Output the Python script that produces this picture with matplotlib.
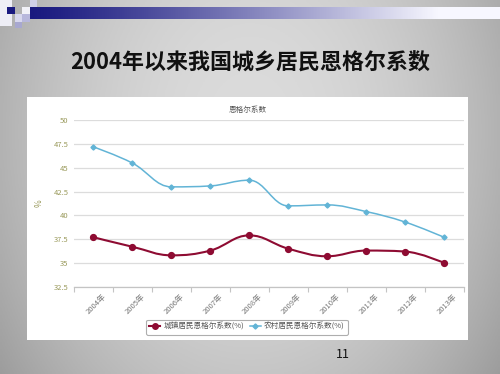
import numpy as np
import matplotlib.pyplot as plt
from matplotlib.path import Path
from matplotlib.patches import PathPatch, Rectangle
from matplotlib.lines import Line2D
import matplotlib.transforms as mtransforms

plt.rcParams['font.family'] = ['Noto Sans CJK SC', 'DejaVu Sans']

# ---------------- data ----------------
years = ["2004年", "2005年", "2006年", "2007年", "2008年",
         "2009年", "2010年", "2011年", "2012年", "2013年"]
urban = [37.7, 36.7, 35.8, 36.3, 37.9, 36.5, 35.7, 36.3, 36.2, 35.0]
rural = [47.2, 45.5, 43.0, 43.1, 43.7, 41.0, 41.1, 40.4, 39.3, 37.7]
yticks = [32.5, 35, 37.5, 40, 42.5, 45, 47.5, 50]
ytick_labels = ["32.5", "35", "37.5", "40", "42.5", "45", "47.5", "50"]

URBAN_C = "#8e0b32"
RURAL_C = "#62b4d6"
W, H = 500, 374


def spline_path(xs, ys, smoothing=1.5):
    """Highcharts-like spline: cubic bezier through every point."""
    n = len(xs)
    denom = smoothing + 1
    lc = [(xs[i], ys[i]) for i in range(n)]
    rc = [(xs[i], ys[i]) for i in range(n)]
    for i in range(1, n - 1):
        px, py = xs[i], ys[i]
        lx, ly = xs[i - 1], ys[i - 1]
        nx, ny = xs[i + 1], ys[i + 1]
        lcx = (smoothing * px + lx) / denom
        lcy = (smoothing * py + ly) / denom
        rcx = (smoothing * px + nx) / denom
        rcy = (smoothing * py + ny) / denom
        corr = (rcy - lcy) * (rcx - px) / (rcx - lcx) + py - rcy
        lcy += corr
        rcy += corr
        if lcy > ly and lcy > py:
            lcy = max(ly, py)
            rcy = 2 * py - lcy
        elif lcy < ly and lcy < py:
            lcy = min(ly, py)
            rcy = 2 * py - lcy
        if rcy > ny and rcy > py:
            rcy = max(ny, py)
            lcy = 2 * py - rcy
        elif rcy < ny and rcy < py:
            rcy = min(ny, py)
            lcy = 2 * py - rcy
        lc[i] = (lcx, lcy)
        rc[i] = (rcx, rcy)
    verts = [(xs[0], ys[0])]
    codes = [Path.MOVETO]
    for i in range(1, n):
        verts += [rc[i - 1], lc[i], (xs[i], ys[i])]
        codes += [Path.CURVE4] * 3
    return Path(verts, codes)


fig = plt.figure(figsize=(5, 3.74), dpi=100)

# slide background (gray gradient)
bg = fig.add_axes([0, 0, 1, 1])
gx = np.linspace(-1, 1, 200)
gy = np.linspace(-1, 1, 150)
GX, GY = np.meshgrid(gx, gy)
shade = 0.86 - 0.16 * GX ** 2 - 0.05 * (GY + 0.3) ** 2
shade = np.clip(shade, 0, 1)
bg.imshow(np.dstack([shade] * 3), extent=[0, 1, 0, 1], aspect="auto")
bg.set_xlim(0, 1)
bg.set_ylim(0, 1)
bg.axis("off")

# top decorative bar
bar = fig.add_axes([30 / W, 1 - 19 / H, 470 / W, 12 / H])
t = np.linspace(0, 1, 256)
navy = np.array([0.10, 0.10, 0.50])
white = np.array([0.97, 0.97, 1.0])
wgt = np.clip(t * 1.15, 0, 1) ** 1.2
grad = navy[None, :] * (1 - wgt[:, None]) + white[None, :] * wgt[:, None]
bar.imshow(grad[None, :, :], extent=[0, 1, 0, 1], aspect="auto")
bar.axis("off")

# little squares top-left
squares = [
    (0, 0, 12, 26, "#eeeef6"),
    (7, 7, 8, 7, "#1a1a80"),
    (15, 14, 8, 8, "#d8d8ee"),
    (22, 7, 8, 7, "#f2f2f8"),
    (30, 0, 7, 7, "#cfcfe8"),
    (15, 22, 7, 6, "#a8a8d0"),
    (22, 14, 8, 8, "#b8b8dc"),
]
for x0, y0, w, h, c in squares:
    bg.add_patch(Rectangle((x0 / W, 1 - (y0 + h) / H), w / W, h / H,
                           color=c, lw=0, transform=bg.transAxes))

# slide title and page number
fig.text(0.5, 1 - 63 / H, "2004年以来我国城乡居民恩格尔系数",
         ha="center", va="center", fontsize=15.8, fontweight="bold",
         color="#111111")
fig.text(343 / W, 1 - 355 / H, "11", ha="center", va="center",
         fontsize=9, color="#111111")

# white chart panel
bg.add_patch(Rectangle((27 / W, 1 - 340 / H), 441 / W, 243 / H,
                       color="white", lw=0, transform=bg.transAxes))

# ---------------- chart ----------------
ax = fig.add_axes([74 / W, 1 - 286.7 / H, 389.5 / W, 166.4 / H])
ax.set_facecolor("white")
x = np.arange(len(years))

ax.add_patch(PathPatch(spline_path(x, urban), fill=False,
                       edgecolor=URBAN_C, lw=1.5, zorder=3))
ax.add_patch(PathPatch(spline_path(x, rural), fill=False,
                       edgecolor=RURAL_C, lw=1.1, zorder=3))
ax.plot(x, urban, "o", color=URBAN_C, ms=4.2, zorder=4)
ax.plot(x, rural, "D", color=RURAL_C, ms=2.6, zorder=4)

ax.set_xlim(-0.5, len(years) - 0.5)
ax.set_ylim(32.5, 50)
ax.set_yticks(yticks)
ax.set_yticklabels(ytick_labels)
ax.tick_params(axis="y", length=0, pad=4, labelsize=5.5, labelcolor="#9a9a5c")
ax.grid(axis="y", color="#dcdcdc", lw=0.9)
ax.set_axisbelow(True)
for s in ["left", "right", "top"]:
    ax.spines[s].set_visible(False)
ax.spines["bottom"].set_color("#c4c4c4")
ax.spines["bottom"].set_linewidth(0.9)

ax.set_xticks(x)
ax.set_xticks(np.arange(-0.5, len(years)), minor=True)
ax.tick_params(axis="x", which="major", length=0, pad=4)
ax.tick_params(axis="x", which="minor", length=3.5, color="#c4c4c4", width=0.8)
ax.set_xticklabels(years, rotation=45, ha="right", rotation_mode="anchor",
                   fontsize=5.5, color="#777777")
offset = mtransforms.ScaledTranslation(9 / 100, 0, fig.dpi_scale_trans)
for lab in ax.get_xticklabels():
    lab.set_transform(lab.get_transform() + offset)

ax.set_ylabel("%", fontsize=6, color="#9a9a5c", labelpad=7)

fig.text(248 / W, 1 - 110 / H, "恩格尔系数", ha="center", va="center",
         fontsize=5.5, color="#555555")

handles = [
    Line2D([], [], color=URBAN_C, lw=1.5, marker="o", ms=4),
    Line2D([], [], color=RURAL_C, lw=1.1, marker="D", ms=2.6),
]
leg = fig.legend(handles, ["城镇居民恩格尔系数(%)", "农村居民恩格尔系数(%)"],
                 loc="center", bbox_to_anchor=(247 / W, 1 - 327 / H),
                 ncol=2, fontsize=5.5, frameon=True, fancybox=True,
                 edgecolor="#9a9a9a", handlelength=1.4, handletextpad=0.4,
                 columnspacing=0.8, borderpad=0.45)
leg.get_frame().set_linewidth(0.8)
for txt in leg.get_texts():
    txt.set_color("#555555")

fig.savefig("out.png", dpi=100)
